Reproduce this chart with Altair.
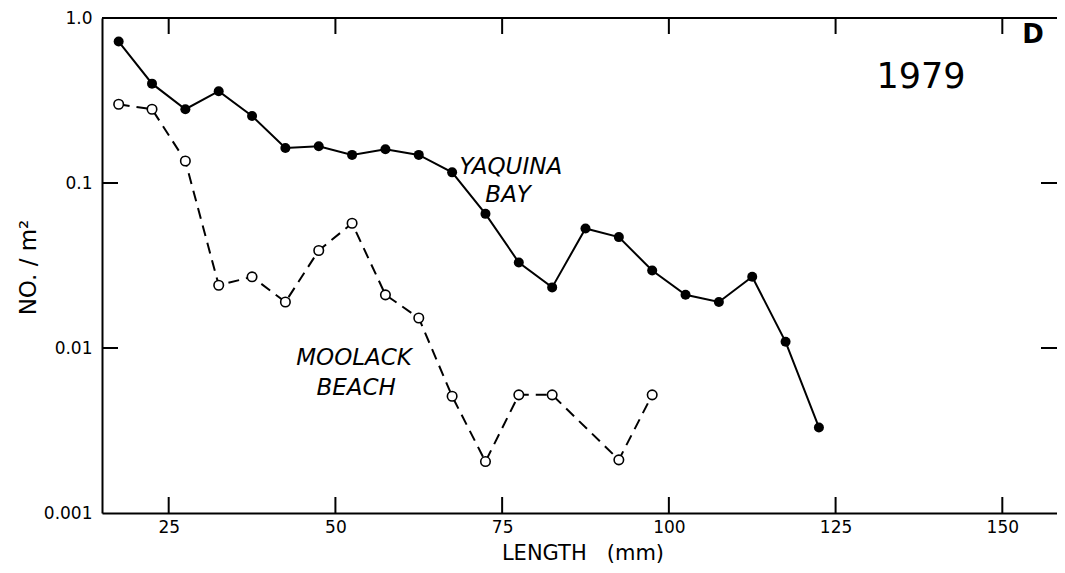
import altair as alt
import pandas as pd

# ---- data ----
yaq_length = [17.5, 22.5, 27.5, 32.5, 37.5, 42.5, 47.5, 52.5, 57.5, 62.5, 67.5,
              72.5, 77.5, 82.5, 87.5, 92.5, 97.5, 102.5, 107.5, 112.5, 117.5, 122.5]
yaq_density = [0.72, 0.40, 0.28, 0.36, 0.255, 0.163, 0.167, 0.148, 0.16, 0.148, 0.116,
               0.065, 0.033, 0.0233, 0.053, 0.047, 0.0295, 0.021, 0.019, 0.027, 0.0109, 0.0033]

moo_length = [17.5, 22.5, 27.5, 32.5, 37.5, 42.5, 47.5, 52.5, 57.5, 62.5, 67.5,
              72.5, 77.5, 82.5, 92.5, 97.5]
moo_density = [0.30, 0.28, 0.136, 0.024, 0.027, 0.019, 0.039, 0.057, 0.021, 0.0152,
               0.0051, 0.00205, 0.0052, 0.0052, 0.0021, 0.0052]

x_ticks = [25, 50, 75, 100, 125, 150]
y_ticks = [1.0, 0.1, 0.01, 0.001]
y_inner_ticks = [0.1, 0.01]

label_text = ["YAQUINA", "BAY", "MOOLACK", "BEACH"]
label_x = [76.3, 75.9, 52.8, 53.1]
label_y = [0.125, 0.0847, 0.0087, 0.00575]

X_MIN, X_MAX = 15, 158.2
Y_MIN, Y_MAX = 0.001, 1.0
W, H = 955, 495
TICK = 16  # inward tick length in pixels
FONT = "DejaVu Sans"

# inward tick segments, two points each, in data units (drawn through the chart's scales)
dx = TICK * (X_MAX - X_MIN) / W
fy = 10 ** (TICK * 3 / H)
pts = []
k = 0
for v in x_ticks:
    pts += [{"id": k, "x": v, "y": Y_MIN}, {"id": k, "x": v, "y": Y_MIN * fy}]
    k += 1
    pts += [{"id": k, "x": v, "y": Y_MAX}, {"id": k, "x": v, "y": Y_MAX / fy}]
    k += 1
for v in y_inner_ticks:
    pts += [{"id": k, "x": X_MIN, "y": v}, {"id": k, "x": X_MIN + dx, "y": v}]
    k += 1
    pts += [{"id": k, "x": X_MAX, "y": v}, {"id": k, "x": X_MAX - dx, "y": v}]
    k += 1
pts += [{"id": k, "x": X_MIN, "y": Y_MAX}, {"id": k, "x": X_MAX, "y": Y_MAX}]
segs = pd.DataFrame(pts)

yaq = pd.DataFrame({"length": yaq_length, "density": yaq_density})
moo = pd.DataFrame({"length": moo_length, "density": moo_density})
labels = pd.DataFrame({"t": label_text, "x": label_x, "y": label_y})
year = pd.DataFrame({"t": ["1979"], "x": [137.8], "y": [0.44]})
panel = pd.DataFrame({"t": ["D"], "x": [154.6], "y": [0.79]})

xscale = alt.Scale(domain=[X_MIN, X_MAX], nice=False, zero=False)
yscale = alt.Scale(type="log", domain=[Y_MIN, Y_MAX], nice=False)

xaxis = alt.Axis(values=x_ticks, ticks=False, grid=False, domainColor="black",
                 domainWidth=2, labelFont=FONT, labelFontSize=17,
                 labelColor="black", labelPadding=6,
                 title="LENGTH\u00a0\u00a0\u00a0(mm)", titleFont=FONT, titleFontSize=21,
                 titleFontWeight="normal", titleColor="black", titleX=W / 2 + 3, titleY=46,
                 titleBaseline="alphabetic", titleAlign="center", labelFlush=False)
yaxis = alt.Axis(values=y_ticks, ticks=False, grid=False, domainColor="black",
                 domainWidth=2, labelFont=FONT, labelFontSize=17,
                 labelColor="black", labelPadding=10,
                 labelExpr="datum.value > 0.5 ? '1.0' : datum.value > 0.05 ? '0.1' : datum.value > 0.005 ? '0.01' : '0.001'",
                 title="NO. / m²", titleFont=FONT, titleFontSize=23, titleFontWeight="normal",
                 titleColor="black", titleX=-67, titleY=249, titleAngle=-90,
                 titleBaseline="alphabetic", titleAlign="center", labelFlush=False)

x_enc = alt.X("length:Q", scale=xscale, axis=xaxis)
y_enc = alt.Y("density:Q", scale=yscale, axis=yaxis)

ticks = alt.Chart(segs).mark_line(color="black", strokeWidth=2).encode(
    x=alt.X("x:Q", scale=xscale),
    y=alt.Y("y:Q", scale=yscale),
    detail="id:N")

yaq_line = alt.Chart(yaq).mark_line(color="black", strokeWidth=2).encode(x=x_enc, y=y_enc)
yaq_pts = alt.Chart(yaq).mark_point(filled=True, color="black", size=100, opacity=1).encode(
    x="length:Q", y="density:Q")

moo_line = alt.Chart(moo).mark_line(color="black", strokeWidth=2, strokeDash=[11, 7]).encode(
    x="length:Q", y="density:Q")
moo_pts = alt.Chart(moo).mark_point(shape="circle", fill="white", stroke="black", strokeWidth=1.6,
                                    size=90, opacity=1, fillOpacity=1).encode(
    x="length:Q", y="density:Q")

series_labels = alt.Chart(labels).mark_text(font=FONT, fontSize=23, fontStyle="italic",
                                            color="black", align="center",
                                            baseline="middle").encode(
    x=alt.X("x:Q", scale=xscale), y=alt.Y("y:Q", scale=yscale), text="t:N")
year_label = alt.Chart(year).mark_text(font=FONT, fontSize=35, color="black",
                                       align="center", baseline="middle").encode(
    x=alt.X("x:Q", scale=xscale), y=alt.Y("y:Q", scale=yscale), text="t:N")
panel_label = alt.Chart(panel).mark_text(font=FONT, fontSize=26, fontWeight="bold", color="black",
                                         align="center", baseline="middle").encode(
    x=alt.X("x:Q", scale=xscale), y=alt.Y("y:Q", scale=yscale), text="t:N")

chart = alt.layer(
    yaq_line, moo_line, yaq_pts, moo_pts, ticks,
    series_labels, year_label, panel_label,
).properties(
    width=W, height=H,
    padding={"left": 94, "top": 10, "right": 0, "bottom": 52},
    autosize=alt.AutoSizeParams(type="none"),
).configure_view(
    strokeWidth=0
).configure(background="white")

chart.save("out.html", embed_options={"renderer": "svg", "actions": False})
